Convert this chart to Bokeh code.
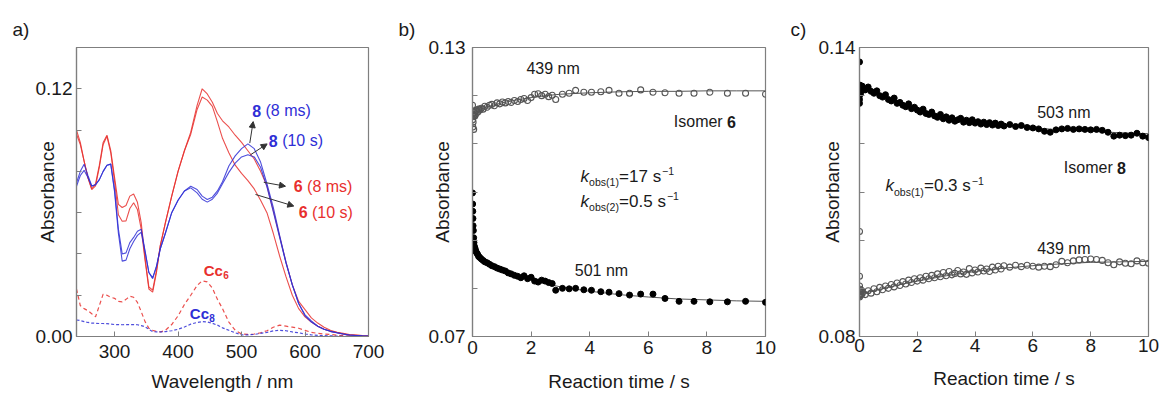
import math
from bokeh.plotting import figure
from bokeh.layouts import row
from bokeh.models import Label, Arrow, NormalHead, FixedTicker, PrintfTickFormatter, Range1d
from bokeh.embed import file_html
from bokeh.resources import INLINE

# ---------------- data: panel a (spectra) ----------------
WL = [240, 246, 252, 258, 264, 270, 276, 282, 288, 294, 300, 306, 312, 318, 324, 330, 336, 342, 348, 354,
      360, 366, 372, 380, 390, 400, 410, 420, 430, 438, 446, 454, 462, 470,
      480, 490, 500, 510, 520, 530, 540, 550, 560, 570, 580, 590, 600, 610, 620, 630, 640, 650, 660, 670, 680, 690, 700]

ISO6_8MS = [0.100, 0.094, 0.085, 0.077, 0.0715, 0.074, 0.083, 0.094, 0.0975, 0.090,
            0.077, 0.064, 0.0625, 0.0635, 0.068, 0.069, 0.065, 0.055, 0.038, 0.024,
            0.0225, 0.032, 0.044, 0.055, 0.068, 0.080, 0.090, 0.099, 0.112, 0.120, 0.1175, 0.1135, 0.108, 0.1045,
            0.1015, 0.0975, 0.094, 0.090, 0.086, 0.080, 0.073, 0.061, 0.0485, 0.036, 0.025, 0.017, 0.013, 0.009,
            0.0065, 0.0045, 0.003, 0.002, 0.0015, 0.001, 0.0008, 0.0005, 0.0003]
ISO6_10S = [0.098, 0.093, 0.085, 0.077, 0.0712, 0.073, 0.082, 0.093, 0.097, 0.089,
            0.075, 0.059, 0.0558, 0.0560, 0.0620, 0.0648, 0.0615, 0.052, 0.037, 0.023,
            0.0215, 0.031, 0.044, 0.055, 0.068, 0.080, 0.090, 0.098, 0.110, 0.116, 0.1145, 0.1115, 0.104, 0.096,
            0.089, 0.083, 0.079, 0.0755, 0.0715, 0.066, 0.060, 0.050, 0.039, 0.029, 0.020, 0.0135, 0.0095, 0.007,
            0.005, 0.0035, 0.0025, 0.002, 0.0012, 0.0008, 0.0005, 0.0003, 0.0002]
ISO8_8MS = [0.0745, 0.080, 0.0835, 0.078, 0.073, 0.0735, 0.076, 0.080, 0.083, 0.0835,
            0.071, 0.052, 0.040, 0.0405, 0.0455, 0.048, 0.051, 0.052, 0.0415, 0.031,
            0.028, 0.034, 0.0425, 0.050, 0.060, 0.066, 0.0705, 0.0728, 0.0712, 0.068, 0.0664, 0.0675, 0.0705, 0.075,
            0.0826, 0.0875, 0.091, 0.0933, 0.091, 0.0845, 0.074, 0.0625, 0.049, 0.036, 0.025, 0.016, 0.0105, 0.0075,
            0.005, 0.0035, 0.0025, 0.0018, 0.0012, 0.0007, 0.0005, 0.0003, 0.0002]
ISO8_10S = [0.0728, 0.078, 0.0805, 0.077, 0.0728, 0.0735, 0.076, 0.080, 0.083, 0.0835,
            0.070, 0.050, 0.0365, 0.037, 0.0425, 0.046, 0.049, 0.0505, 0.041, 0.031,
            0.0285, 0.034, 0.0425, 0.050, 0.060, 0.066, 0.0705, 0.072, 0.0696, 0.0665, 0.0651, 0.0665, 0.0695, 0.074,
            0.0795, 0.084, 0.087, 0.088, 0.087, 0.082, 0.0725, 0.0605, 0.048, 0.0355, 0.025, 0.016, 0.010, 0.007,
            0.005, 0.0035, 0.0025, 0.0018, 0.0012, 0.0007, 0.0005, 0.0003, 0.0002]
CC6 = [0.023, 0.015, 0.0135, 0.0125, 0.011, 0.0095, 0.015, 0.0205, 0.020, 0.019,
       0.0185, 0.017, 0.0168, 0.018, 0.0195, 0.019, 0.0165, 0.012, 0.0072, 0.004,
       0.003, 0.0025, 0.0022, 0.003, 0.0058, 0.010, 0.0155, 0.020, 0.0247, 0.027, 0.0265, 0.0235, 0.018, 0.0135,
       0.007, 0.003, 0.0012, 0.001, 0.0012, 0.0018, 0.0028, 0.0045, 0.0055, 0.005, 0.0045, 0.004, 0.003, 0.002,
       0.0015, 0.0012, 0.001, 0.0006, 0.0004, 0.0003, 0.0002, 0.0001, 0.0001]
CC8 = [0.008, 0.0077, 0.0072, 0.0068, 0.0065, 0.0064, 0.0063, 0.0063, 0.0062, 0.006,
       0.0058, 0.0058, 0.0057, 0.0058, 0.0058, 0.0058, 0.0057, 0.0053, 0.0047, 0.0035,
       0.0024, 0.0022, 0.0022, 0.0024, 0.0028, 0.0035, 0.0046, 0.006, 0.0068, 0.0072, 0.007, 0.0064, 0.0055, 0.0042,
       0.003, 0.0018, 0.0008, 0.0008, 0.001, 0.0015, 0.002, 0.0027, 0.003, 0.0028, 0.0022, 0.0018, 0.0012, 0.0008,
       0.0005, 0.0004, 0.0003, 0.0002, 0.0001, 0.0001, 0.0001, 0.0001, 0.0001]

# ---------------- data: panel b (isomer 6 kinetics) ----------------
TB = [0.000, 0.005, 0.010, 0.015, 0.020, 0.030, 0.040, 0.050, 0.060, 0.080,
      0.10, 0.12, 0.15, 0.18, 0.21, 0.25, 0.30, 0.36, 0.42, 0.50,
      0.58, 0.66, 0.75, 0.84, 0.93, 1.02, 1.12, 1.22, 1.32, 1.43,
      1.54, 1.65, 1.76, 1.88, 2.00, 2.12, 2.24, 2.36, 2.48, 2.60,
      2.72, 2.84, 3.07, 3.30, 3.52, 3.80, 4.06, 4.38, 4.66, 5.00,
      5.36, 5.74, 6.16, 6.57, 7.05, 7.56, 8.10, 8.70, 9.32, 10.00]
B_439 = [0.1180, 0.1150, 0.1135, 0.1162, 0.1145, 0.1158, 0.1130, 0.1160, 0.1165, 0.1158,
         0.1168, 0.1162, 0.1170, 0.1166, 0.1172, 0.1170, 0.1174, 0.1172, 0.1178, 0.1176,
         0.1180, 0.1182, 0.1179, 0.1185, 0.1183, 0.1187, 0.1185, 0.1188, 0.1186, 0.1190,
         0.1188, 0.1192, 0.1194, 0.1190, 0.1196, 0.1203, 0.1204, 0.1200, 0.1203, 0.1198,
         0.1201, 0.1192, 0.1203, 0.1205, 0.1211, 0.1207, 0.1207, 0.1208, 0.1211, 0.1205,
         0.1205, 0.1212, 0.1207, 0.1206, 0.1205, 0.1205, 0.1207, 0.1205, 0.1205, 0.1203]
B_501 = [0.0998, 0.0975, 0.0960, 0.0945, 0.0930, 0.0920, 0.0905, 0.0895, 0.0888, 0.0884,
         0.0880, 0.0876, 0.0873, 0.0870, 0.0866, 0.0864, 0.0861, 0.0858, 0.0855, 0.0853,
         0.0850, 0.0847, 0.0845, 0.0842, 0.0840, 0.0838, 0.0836, 0.0832, 0.0830, 0.0827,
         0.0825, 0.0822, 0.0826, 0.0820, 0.0823, 0.0815, 0.0813, 0.0817, 0.0815, 0.0812,
         0.0810, 0.0796, 0.0800, 0.0799, 0.0800, 0.0797, 0.0796, 0.0793, 0.0792, 0.0789,
         0.0786, 0.0788, 0.0788, 0.0779, 0.0773, 0.0773, 0.0772, 0.0772, 0.0773, 0.0771]
TB_FIT = [0, 0.05, 0.1, 0.2, 0.3, 0.5, 0.75, 1, 1.5, 2, 2.5, 3, 4, 5, 6, 7, 8, 9, 10]
B_439_FIT = [0.1150, 0.1160, 0.1165, 0.1170, 0.1173, 0.1177, 0.1181, 0.1185, 0.1191, 0.1196,
             0.1200, 0.1203, 0.1206, 0.1208, 0.1209, 0.1209, 0.1210, 0.1210, 0.1210]
B_501_FIT = [0.0890, 0.0884, 0.0879, 0.0872, 0.0866, 0.0857, 0.0848, 0.0840, 0.0828, 0.0818,
             0.0810, 0.0803, 0.0794, 0.0787, 0.0782, 0.0778, 0.0776, 0.0774, 0.0773]

# ---------------- data: panel c (isomer 8 kinetics) ----------------
TC = [0, 0, 0, 0, 0, 0.01, 0.02, 0.03, 0.04, 0.05, 0.07, 0.09,
      0.1, 0.2, 0.3, 0.4, 0.5, 0.6, 0.7, 0.8, 0.9, 1.0,
      1.1, 1.2, 1.3, 1.4, 1.5, 1.6, 1.7, 1.8, 1.9, 2.0,
      2.1, 2.2, 2.3, 2.4, 2.5, 2.6, 2.7, 2.8, 2.9, 3.0,
      3.1, 3.2, 3.3, 3.4, 3.5, 3.6, 3.7, 3.8, 3.9, 4.0,
      4.1, 4.2, 4.3, 4.4, 4.5, 4.6, 4.7, 4.8, 4.9, 5.0,
      5.2, 5.4, 5.6, 5.8, 6.0, 6.2, 6.4, 6.6, 6.8, 7.0,
      7.2, 7.4, 7.6, 7.8, 8.0, 8.2, 8.4, 8.6, 8.8, 9.0,
      9.2, 9.4, 9.6, 9.8, 10.0]
C_503 = [0.1370, 0.1318, 0.1300, 0.1284, 0.1292, 0.1322, 0.1310, 0.1316, 0.1305, 0.1318, 0.1312, 0.1320,
         0.1316, 0.1312, 0.1318, 0.1309, 0.1305, 0.1310, 0.1300, 0.1297, 0.1302, 0.1292,
         0.1289, 0.1295, 0.1284, 0.1286, 0.1280, 0.1277, 0.1283, 0.1273, 0.1276, 0.1270,
         0.1266, 0.1272, 0.1263, 0.1261, 0.1266, 0.1258, 0.1255, 0.1261, 0.1252, 0.1256,
         0.1249, 0.1254, 0.1247, 0.1250, 0.1253, 0.1245, 0.1249, 0.1244, 0.1250, 0.1243,
         0.1246, 0.1241, 0.1245, 0.1240, 0.1244, 0.1239, 0.1243, 0.1238, 0.1241, 0.1237,
         0.1240, 0.1236, 0.1238, 0.1234, 0.1233, 0.1231, 0.1226, 0.1224, 0.1229, 0.1231,
         0.1232, 0.1230, 0.1231, 0.1230, 0.1229, 0.1230, 0.1228, 0.1224, 0.1216, 0.1218,
         0.1217, 0.1218, 0.1222, 0.1216, 0.1213]
C_439 = [0.1018, 0.0925, 0.0895, 0.0882, 0.0905, 0.0888, 0.0898, 0.0885, 0.0893, 0.0887, 0.0896, 0.0889,
         0.0892, 0.0887, 0.0895, 0.0890, 0.0899, 0.0893, 0.0902, 0.0897, 0.0905, 0.0900,
         0.0908, 0.0903, 0.0911, 0.0906, 0.0914, 0.0909, 0.0917, 0.0912, 0.0920, 0.0915,
         0.0922, 0.0917, 0.0925, 0.0920, 0.0927, 0.0922, 0.0930, 0.0924, 0.0933, 0.0926,
         0.0935, 0.0928, 0.0931, 0.0937, 0.0930, 0.0934, 0.0929, 0.0941, 0.0932, 0.0938,
         0.0934, 0.0942, 0.0936, 0.0940, 0.0935, 0.0944, 0.0938, 0.0946, 0.0940, 0.0947,
         0.0944, 0.0948, 0.0945, 0.0948, 0.0946, 0.0944, 0.0946, 0.0945, 0.0949, 0.0956,
         0.0953, 0.0957, 0.0959, 0.0960, 0.0961, 0.0960, 0.0958, 0.0953, 0.0949, 0.0955,
         0.0952, 0.0951, 0.0957, 0.0953, 0.0952]
TC_FIT = [0, 0.5, 1, 1.5, 2, 3, 4, 5, 6, 7, 8, 9, 10]
C_503_FIT = [0.1318, 0.1305, 0.1292, 0.1281, 0.1271, 0.1256, 0.1246, 0.1239, 0.1233, 0.1229, 0.1226, 0.1223, 0.1221]
C_439_FIT = [0.0888, 0.0895, 0.0902, 0.0909, 0.0915, 0.0926, 0.0935, 0.0942, 0.0947, 0.0951, 0.0954, 0.0955, 0.0956]

for a in (ISO6_8MS, ISO6_10S, ISO8_8MS, ISO8_10S, CC6, CC8):
    assert len(a) == len(WL)
assert len(B_439) == len(TB) == len(B_501)
assert len(C_503) == len(TC) == len(C_439)

# ---------------- styling ----------------
FONT = "Liberation Sans"
RED = "#e8302e"
BLUE = "#2f2fd6"
GRAY = "#7f7f7f"
TXT = "#1a1a1a"
H = 394


def make_fig(width, xr, yr, bl, br, bt, bb, xticks, yticks, yminor, xfmt, yfmt, xlabel,
             xl_standoff, tick_standoff_x, tick_standoff_y, yl_standoff, letter, letter_offset):
    p = figure(width=width, height=H, x_range=Range1d(*xr), y_range=Range1d(*yr),
               output_backend="svg", toolbar_location=None,
               min_border_left=bl, min_border_right=br, min_border_top=bt, min_border_bottom=bb)
    p.grid.visible = False
    p.outline_line_color = GRAY
    p.outline_line_width = 1.2
    p.background_fill_color = "white"
    p.border_fill_color = "white"
    p.xaxis.ticker = FixedTicker(ticks=xticks, minor_ticks=[])
    p.yaxis.ticker = FixedTicker(ticks=yticks, minor_ticks=yminor)
    p.xaxis.formatter = PrintfTickFormatter(format=xfmt)
    p.yaxis.formatter = PrintfTickFormatter(format=yfmt)
    p.xaxis.axis_label = xlabel
    p.xaxis.axis_label_standoff = xl_standoff
    p.xaxis.axis_label_text_line_height = 0.8
    p.yaxis.axis_label = "Absorbance"
    p.yaxis.axis_label_standoff = yl_standoff
    p.xaxis.major_label_standoff = tick_standoff_x
    p.yaxis.major_label_standoff = tick_standoff_y
    for ax in (p.xaxis[0], p.yaxis[0]):
        ax.axis_line_color = GRAY
        ax.axis_line_width = 1.2
        ax.major_tick_in = 5
        ax.major_tick_out = 0
        ax.minor_tick_in = 5
        ax.minor_tick_out = 0
        ax.major_tick_line_color = GRAY
        ax.minor_tick_line_color = GRAY
        ax.major_label_text_font = FONT
        ax.major_label_text_font_size = "19px"
        ax.major_label_text_color = TXT
        ax.axis_label_text_font = FONT
        ax.axis_label_text_font_size = "19px"
        ax.axis_label_text_font_style = "normal"
        ax.axis_label_text_color = TXT
    p.title.text = letter
    p.title.align = "left"
    p.title.offset = letter_offset
    p.title.standoff = 16
    p.title.text_font = FONT
    p.title.text_font_size = "19px"
    p.title.text_font_style = "normal"
    p.title.text_color = TXT
    return p


def txt(p, x, y, s, size=16, color=TXT, style="normal", align="left", baseline="middle", dx=0, dy=0):
    p.add_layout(Label(x=x, y=y, text=s, text_font=FONT, text_font_size=f"{size}px",
                       text_font_style=style, text_color=color, text_align=align,
                       text_baseline=baseline, x_offset=dx, y_offset=dy))


def arrow(p, x0, y0, x1, y1):
    p.add_layout(Arrow(end=NormalHead(size=6, fill_color="#333333", line_color="#333333", line_width=1),
                       x_start=x0, y_start=y0, x_end=x1, y_end=y1, line_color="#333333", line_width=1))


# ---------------- panel a ----------------
pa = make_fig(390, (240, 700), (0, 0.14), 76, 22, 47, 56,
              [300, 400, 500, 600, 700], [0.0, 0.12], [0.02, 0.04, 0.06, 0.08, 0.10, 0.14],
              "%d", "%.2f", "Wavelength / nm", 10, 8, 4, -25, "a)", -64)
pa.line(WL, CC6, line_color=RED, line_width=1.2, line_dash="4 3", line_alpha=0.85)
pa.line(WL, CC8, line_color=BLUE, line_width=1.2, line_dash="3 2", line_alpha=0.85)
pa.line(WL, ISO6_8MS, line_color=RED, line_width=1.1, line_alpha=0.85)
pa.line(WL, ISO6_10S, line_color=RED, line_width=1.1, line_alpha=0.85)
pa.line(WL, ISO8_8MS, line_color=BLUE, line_width=1.1, line_alpha=0.85)
pa.line(WL, ISO8_10S, line_color=BLUE, line_width=1.1, line_alpha=0.85)

arrow(pa, 513, 0.0937, 518.3, 0.1041)
arrow(pa, 514, 0.0880, 540.3, 0.0933)
arrow(pa, 535, 0.0747, 569.2, 0.0728)
arrow(pa, 522, 0.0688, 582.3, 0.0632)

for (lx, ly, num, rest, col) in [(516.8, 0.1094, "8", "(8 ms)", BLUE),
                                 (543.0, 0.0949, "8", "(10 s)", BLUE),
                                 (582.3, 0.0728, "6", "(8 ms)", RED),
                                 (590.0, 0.0603, "6", "(10 s)", RED)]:
    txt(pa, lx, ly, num, size=16, color=col, style="bold")
    txt(pa, lx, ly, rest, size=16, color=col, dx=13.3)

txt(pa, 440.5, 0.0319, "Cc", size=15, color=RED, style="bold")
txt(pa, 440.5, 0.0319, "6", size=10, color=RED, style="bold", dx=19.5, dy=-4)
txt(pa, 418.5, 0.0111, "Cc", size=15, color=BLUE, style="bold")
txt(pa, 418.5, 0.0111, "8", size=10, color=BLUE, style="bold", dx=19.5, dy=-4)

# ---------------- panel b ----------------
pb = make_fig(390, (0, 10), (0.07, 0.13), 82, 15, 47, 56,
              [0, 2, 4, 6, 8, 10], [0.07, 0.13], [0.08, 0.09, 0.10, 0.11, 0.12],
              "%d", "%.2f", "Reaction time / s", 14, 4, 7, -27, "b)", -74)
pb.line(TB_FIT, B_439_FIT, line_color="#555555", line_width=1)
pb.line(TB_FIT, B_501_FIT, line_color="#555555", line_width=1)
pb.scatter(TB, B_439, marker="circle", size=6, fill_alpha=0, line_color="#555555", line_width=1.1)
pb.scatter(TB, B_501, marker="circle", size=6, fill_color="black", line_color="black")

txt(pb, 2.75, 0.1256, "439 nm", align="center")
txt(pb, 6.87, 0.1146, "Isomer ")
txt(pb, 6.87, 0.1146, "6", style="bold", dx=53.3)
for (ky, sub, rest) in [(0.1033, "obs(1)", "=17 s"), (0.0981, "obs(2)", "=0.5 s")]:
    txt(pb, 3.69, ky, "k", size=17, style="italic")
    txt(pb, 3.69, ky, sub, size=10.5, dx=8.5, dy=-6)
    txt(pb, 3.69, ky, rest, size=17, dx=38.5)
    w = 42.0 if rest == "=17 s" else 46.8
    txt(pb, 3.69, ky, "\u22121", size=10.5, dx=38.5 + w + 1, dy=5)
txt(pb, 4.40, 0.0837, "501 nm", align="center")

# ---------------- panel c ----------------
pc = make_fig(381, (0, 10), (0.08, 0.14), 79, 13, 45, 53,
              [0, 2, 4, 6, 8, 10], [0.08, 0.14], [0.09, 0.10, 0.11, 0.12, 0.13],
              "%d", "%.2f", "Reaction time / s", 13, 2, 4, -27, "c)", -69)
pc.line(TC_FIT, C_503_FIT, line_color="#555555", line_width=1)
pc.line(TC_FIT, C_439_FIT, line_color="#555555", line_width=1)
pc.scatter(TC, C_439, marker="circle", size=6, fill_alpha=0, line_color="#555555", line_width=1.1)
pc.scatter(TC, C_503, marker="circle", size=6, fill_color="black", line_color="black")

txt(pc, 7.07, 0.1265, "503 nm", align="center")
txt(pc, 7.07, 0.1150, "Isomer ")
txt(pc, 7.07, 0.1150, "8", style="bold", dx=53.3)
txt(pc, 0.90, 0.1113, "k", size=17, style="italic")
txt(pc, 0.90, 0.1113, "obs(1)", size=10.5, dx=8.5, dy=-6)
txt(pc, 0.90, 0.1113, "=0.3 s", size=17, dx=38.5)
txt(pc, 0.90, 0.1113, "\u22121", size=10.5, dx=38.5 + 46.8 + 1, dy=5)
txt(pc, 7.07, 0.0983, "439 nm", align="center")

layout = row(pa, pb, pc)
open("out.html", "w").write(file_html(layout, INLINE, title="spectra and kinetics"))
